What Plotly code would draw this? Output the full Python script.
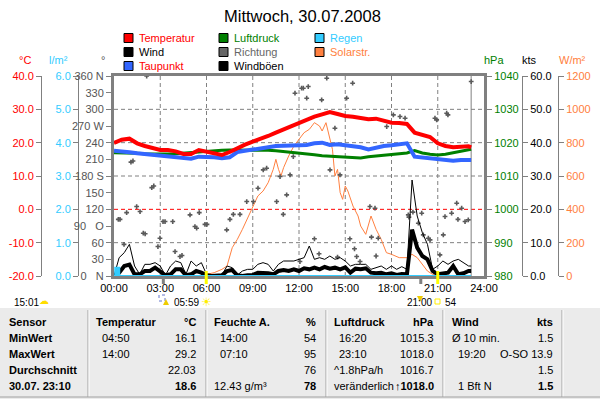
import plotly.graph_objects as go

W, H = 600, 399
def fx(x): return x / W
def fy(y): return 1 - y / H

NARROW = "Liberation Sans, Arial, sans-serif"
REG = "Liberation Sans, Arial, sans-serif"
TS = 11  # tick / legend text size

PL, PR, PT, PB = 114, 484, 76, 276

C_TEMP = "#ff0000"; C_DEW = "#3366ff"; C_PRES = "#008000"; C_DIR = "#5a5a5a"
C_WIND = "#000000"; C_RAIN = "#33ccff"; C_SOLAR = "#ff8040"; GRID = "#808080"

title = "Mittwoch, 30.07.2008"

# ---------------- data ----------------
t_half = [h * 0.5 for h in range(47)] + [23 + 10 / 60]
temperatur = [19.9, 20.9, 21.2, 19.8, 19.0, 18.3, 17.8, 17.8, 17.4, 16.6,
              16.6, 17.8, 17.2, 16.9, 16.3, 17.2, 18.4, 19.4, 20.3, 21.0,
              22.0, 23.0, 24.0, 25.0, 26.0, 27.0, 27.8, 28.5, 29.2, 28.6,
              28.0, 27.8, 27.3, 27.0, 27.2, 26.6, 26.0, 25.9, 25.6, 23.0,
              22.2, 21.7, 19.8, 19.0, 18.6, 18.8, 18.9, 18.6]
taupunkt = [17.6, 17.5, 17.1, 16.8, 16.6, 16.4, 16.1, 16.0, 15.8, 15.3,
            15.2, 15.8, 15.8, 15.6, 15.3, 15.6, 17.2, 17.6, 18.0, 18.5,
            18.8, 19.0, 19.1, 19.2, 19.2, 19.3, 19.8, 20.0, 19.3, 19.5,
            19.2, 19.0, 18.6, 18.0, 18.6, 19.0, 19.2, 19.6, 19.8, 15.8,
            15.5, 15.3, 15.0, 14.9, 14.6, 14.8, 14.7, 14.8]
luftdruck = [1017.0, 1017.0, 1016.9, 1016.8, 1016.7, 1016.6, 1016.5, 1016.6, 1016.7, 1016.9,
             1017.0, 1017.1, 1017.3, 1017.5, 1017.7, 1017.8, 1017.8, 1017.9, 1017.8, 1017.8,
             1017.7, 1017.6, 1017.4, 1017.1, 1016.9, 1016.6, 1016.4, 1016.1, 1016.0, 1015.8,
             1015.7, 1015.5, 1015.4, 1015.8, 1016.0, 1016.3, 1016.4, 1016.5, 1016.9, 1017.6,
             1016.9, 1016.5, 1016.3, 1016.5, 1017.0, 1017.4, 1017.8, 1018.0]

t_20 = [i / 3 for i in range(70)] + [23 + 10 / 60]
wind = [0.0, 1.0, 3.0,  3.4, 0.5, 0.5,  1.5, 1.5, 2.5,  1.5, 0.2, 0.5,
        2.0, 2.0, 0.2,  0.5, 1.5, 1.0,  0.2, 0.0, 0.2,  0.2, 1.5, 1.8,
        0.2, 0.0, 0.2,  0.3, 1.0, 1.0,  0.8, 0.5, 1.5,  1.8, 1.5, 2.0,
        1.5, 2.3, 2.0,  2.5, 2.0, 2.7,  2.2, 2.5, 2.0,  2.6, 1.0, 2.2,
        2.0, 2.3, 1.0,  0.8, 1.0, 0.5,  0.8, 0.3, 0.6,  0.5, 13.9, 8.5,
        6.0, 5.0, 1.5,  0.5, 0.8, 1.0,  3.0, 0.5, 0.8,  1.5, 1.5]
windboeen = [0.0, 5.5, 7.0,  9.5, 3.0, 0.5,  3.5, 3.5, 4.0,  3.0, 0.2, 3.0,
             4.5, 4.0, 0.5,  4.5, 3.0, 4.0,  0.5, 0.3, 0.3,  0.3, 3.0, 2.5,
             0.3, 1.5, 2.0,  2.0, 3.5, 4.0,  3.5, 1.5, 3.5,  4.5, 4.5, 4.5,
             5.0, 5.5, 9.0,  5.0, 5.5, 5.0,  6.0, 5.0, 5.5,  4.5, 3.0, 3.5,
             3.5, 3.5, 2.0,  2.5, 3.0, 2.0,  3.0, 2.0, 2.8,  2.0, 28.8, 18.0,
             13.0, 9.5, 2.0,  3.0, 4.5, 3.5,  4.5, 5.0, 4.0,  3.0, 3.0]

solar_t = [0, 5.9, 6.0, 6.5, 7.0, 7.33, 7.67, 8.0, 8.33, 8.67, 9.0, 9.33, 9.67,
           10.0, 10.33, 10.5, 10.67, 10.83, 11.0, 11.33, 11.67, 12.0, 12.33, 12.67,
           13.0, 13.33, 13.5, 13.75, 14.0, 14.17, 14.33, 14.5, 14.67, 14.83, 15.0,
           15.17, 15.5, 15.83, 16.0, 16.33, 16.67, 16.83, 17.0, 17.33, 17.67, 18.0,
           18.5, 19.0, 19.33, 19.67, 20.0, 20.33, 20.67, 21.0, 23 + 10 / 60]
solar_v = [0, 0, 10, 20, 40, 60, 170, 220, 280, 350, 420, 480, 510,
           560, 640, 700, 640, 600, 650, 720, 780, 820, 860, 880,
           920, 900, 870, 920, 820, 760, 600, 640, 500, 460, 540,
           510, 420, 360, 300, 250, 360, 320, 280, 220, 140, 130,
           110, 110, 130, 110, 70, 30, 10, 0, 0]

regen_t = [0, 0.08, 0.34, 23 + 10 / 60]
regen_v = [0, 0.25, 0, 0]

richtung_t = [0.28, 0.39, 0.65, 0.82, 1.10, 1.23, 1.47, 1.69, 1.90, 2.02, 2.12, 2.45, 2.58,
              2.85, 2.98, 3.18, 3.31, 3.81, 3.96, 4.28, 4.41, 4.93, 5.25, 5.36, 5.53, 5.90,
              6.03, 7.31, 7.52, 7.74, 8.17, 8.61, 9.04, 9.34, 9.68, 9.90, 10.55, 10.77,
              10.98, 11.20, 11.42, 11.63, 11.74, 12.06, 12.17, 12.28, 12.50, 12.60, 13.0,
              13.3, 13.47, 13.80, 14.01, 14.33, 14.5, 14.66, 15.09, 15.3, 15.48, 15.6,
              15.74, 15.96, 16.60, 16.7, 16.93, 17.0, 17.14, 17.69, 18.12, 18.55, 18.88,
              19.09, 19.13, 19.39, 19.74, 19.96, 20.06, 20.39, 20.50, 20.82, 20.93, 21.14,
              21.36, 21.47, 21.58, 21.66, 21.90, 22.23, 22.31, 22.55, 22.77, 22.98, 23.17]
richtung_v = [102, 102, 57, 114, 205, 207, 125, 116, 77, 76, 360, 159, 162,
              53, 68, 98, 98, 98, 44, 35, 37, 110, 89, 86, 114, 93,
              93, 83, 102, 111, 111, 134, 134, 158, 191, 194, 134, 179,
              111, 146, 182, 215, 329, 26, 338, 338, 320, 341, 67,
              40, 317, 356, 191, 266, 34, 182, 320, 67, 347, 49,
              35, 26, 125, 70, 122, 36, 68, 269, 290, 287, 284,
              110, 106, 115, 95, 113, 74, 68, 65, 284, 281, 38,
              74, 107, 293, 290, 113, 131, 102, 122, 98, 101, 350]

hour_ticks = list(range(0, 25, 3))
hour_labels = [f"{h:02d}:00" for h in hour_ticks]
deg_ticks = list(range(0, 361, 30))
deg_labels = ["0   N", "30", "60", "90   O", "120", "150", "180 S", "210", "240",
              "270 W", "300", "330", "360 N"]
temp_ticks = list(range(-20, 41, 10))
rain_ticks = list(range(0, 7))
hpa_ticks = list(range(980, 1041, 10))
kts_ticks = list(range(0, 61, 10))
solar_ticks = list(range(0, 1201, 200))
grid_w = [200, 400, 600, 800, 1000]   # on solar axis = 60..300 deg
frost_w = 400                         # 0 degC line
jetzt = 23 + 10 / 60
sonnenaufgang, sonnenuntergang = 5 + 59 / 60, 21.0
mond_auf, mond_unter = 3.2, 19.9

# ---------------- figure ----------------
fig = go.Figure()
fig.add_trace(go.Scatter(x=solar_t, y=solar_v, mode="lines", yaxis="y",
                         line=dict(color=C_SOLAR, width=1), name="Solarstr."))
fig.add_trace(go.Scatter(x=richtung_t, y=richtung_v, mode="markers", yaxis="y2",
                         marker=dict(symbol="cross", size=4, color=C_DIR, line=dict(width=0)),
                         name="Richtung"))
fig.add_trace(go.Scatter(x=t_20, y=windboeen, mode="lines", yaxis="y3",
                         line=dict(color=C_WIND, width=1), name="Windböen"))
fig.add_trace(go.Scatter(x=t_20, y=wind, mode="lines", yaxis="y3",
                         line=dict(color=C_WIND, width=4), name="Wind"))
fig.add_trace(go.Scatter(x=regen_t, y=regen_v, mode="lines", yaxis="y4",
                         line=dict(color=C_RAIN, width=2, shape="hv"), fill="tozeroy",
                         fillcolor=C_RAIN, name="Regen"))
fig.add_trace(go.Scatter(x=t_half, y=luftdruck, mode="lines", yaxis="y5",
                         line=dict(color=C_PRES, width=3), name="Luftdruck"))
fig.add_trace(go.Scatter(x=t_half, y=taupunkt, mode="lines", yaxis="y6",
                         line=dict(color=C_DEW, width=4), name="Taupunkt"))
fig.add_trace(go.Scatter(x=t_half, y=temperatur, mode="lines", yaxis="y6",
                         line=dict(color=C_TEMP, width=4), name="Temperatur"))

def yax(rng, ticks, labels, color, **kw):
    d = dict(range=rng, tickvals=ticks, ticktext=labels, showgrid=False, zeroline=False,
             ticks="outside", ticklen=5, tickcolor=GRID, showline=True, linecolor=GRID,
             linewidth=1, automargin=False, fixedrange=True,
             tickfont=dict(family=NARROW, size=TS, color=color))
    d.update(kw)
    return d

ydom = [fy(PB), fy(PT)]
fig.update_layout(
    width=W, height=H, autosize=False, template="none",
    margin=dict(l=0, r=0, t=0, b=0),
    paper_bgcolor="white", plot_bgcolor="white", showlegend=False,
    xaxis=dict(domain=[fx(PL), fx(PR)], range=[0, 24], tickvals=hour_ticks,
               ticktext=hour_labels, showgrid=False, zeroline=False, ticks="", ticklen=0,
               showline=True, mirror=True, linecolor=GRID, linewidth=3,
               automargin=False, fixedrange=True,
               tickfont=dict(family=NARROW, size=TS, color="black")),
    yaxis=yax([0, 1200], solar_ticks, [str(v) for v in solar_ticks], C_SOLAR,
              domain=ydom, anchor="free", side="right", position=fx(558)),
    yaxis2=yax([0, 360], deg_ticks, deg_labels, "#555555", overlaying="y",
               anchor="x", side="left", linewidth=3),
    yaxis3=yax([0, 60], kts_ticks, [f"{v:.1f}" for v in kts_ticks], "black",
               overlaying="y", anchor="free", side="right", position=fx(522)),
    yaxis4=yax([0, 6], rain_ticks, [f"{v:.1f}" for v in rain_ticks], C_RAIN,
               overlaying="y", anchor="free", side="left", position=fx(78)),
    yaxis5=yax([980, 1040], hpa_ticks, [str(v) for v in hpa_ticks], C_PRES,
               overlaying="y", anchor="x", side="right", linewidth=3),
    yaxis6=yax([-20, 40], temp_ticks, [f"{v:.1f}" for v in temp_ticks], C_TEMP,
               overlaying="y", anchor="free", side="left", position=fx(41)),
)

shapes = []
for h in hour_ticks[1:-1]:
    shapes.append(dict(type="line", xref="x", yref="y domain", x0=h, x1=h, y0=0, y1=1,
                       line=dict(color=GRID, width=1, dash="4px,3px"), layer="below"))
for g in grid_w:
    shapes.append(dict(type="line", xref="x domain", yref="y", x0=0, x1=1, y0=g, y1=g,
                       line=dict(color=C_TEMP if g == frost_w else GRID, width=1,
                                 dash="4px,3px"), layer="below"))
shapes.append(dict(type="line", xref="x", yref="y domain", x0=jetzt, x1=jetzt, y0=0, y1=1,
                   line=dict(color=GRID, width=1), layer="below"))
for t, c, top in [(mond_auf, GRID, PB), (mond_unter, GRID, PB),
                  (sonnenaufgang, "#ffff00", PB - 5), (sonnenuntergang, "#ffff00", PB - 5)]:
    shapes.append(dict(type="line", xref="x", yref="paper", x0=t, x1=t, y0=fy(PB + 8),
                       y1=fy(top), line=dict(color=c, width=3), layer="above"))

ann = []
def text(x, y, s, color="black", size=TS, family=NARROW, anchor="left"):
    ann.append(dict(x=fx(x), y=fy(y), xref="paper", yref="paper", text=s, showarrow=False,
                    xanchor=anchor, yanchor="middle",
                    font=dict(family=family, size=size, color=color)))

text(302, 16, title, size=16.5, family=REG, anchor="center")

legend = [(124, 38, "Temperatur", C_TEMP, C_TEMP), (124, 52, "Wind", C_WIND, "black"),
          (124, 66, "Taupunkt", C_DEW, C_TEMP), (219, 38, "Luftdruck", C_PRES, C_PRES),
          (219, 52, "Richtung", "#666666", "#666666"), (219, 66, "Windböen", C_WIND, "black"),
          (315, 38, "Regen", C_RAIN, C_RAIN), (315, 52, "Solarstr.", C_SOLAR, C_SOLAR)]
for x, y, lab, sc, tc in legend:
    shapes.append(dict(type="rect", xref="paper", yref="paper", x0=fx(x), x1=fx(x + 9),
                       y0=fy(y + 4.5), y1=fy(y - 4.5), fillcolor=sc,
                       line=dict(color="black", width=1), layer="above"))
    text(x + 13, y, lab, color=tc)

for x, s, c in [(25, "°C", C_TEMP), (58, "l/m²", C_RAIN), (103, "°", "#555555"),
                (494, "hPa", C_PRES), (529, "kts", "black"), (572, "W/m²", C_SOLAR)]:
    text(x, 60, s, color=c, anchor="center")

def tri(xc, yc, up, color):
    d = -1 if up else 1
    path = (f"M {fx(xc - 3)} {fy(yc - 3 * d)} L {fx(xc + 3)} {fy(yc - 3 * d)} "
            f"L {fx(xc)} {fy(yc + 3 * d)} Z")
    shapes.append(dict(type="path", xref="paper", yref="paper", path=path,
                       fillcolor=color, line=dict(color=color, width=0), layer="above"))

# sun / moon row
text(12, 302, "15:01", size=10)
text(44, 300, "☁", color="#ffdd00", size=10, family="DejaVu Sans", anchor="center")
shapes.append(dict(type="rect", xref="paper", yref="paper", x0=fx(159), x1=fx(165),
                   y0=fy(301), y1=fy(295), line=dict(color="#6677cc", width=1, dash="dot"),
                   layer="above"))
tri(166, 302, True, "#eecc00")
text(172, 302, "05:59", size=10)
text(206, 302, "☀", color="#ffee00", size=12, family="DejaVu Sans", anchor="center")
text(405, 302, "21:00", size=10)
tri(420, 299, False, "#eecc00")
shapes.append(dict(type="rect", xref="paper", yref="paper", x0=fx(435), x1=fx(440),
                   y0=fy(304), y1=fy(299), line=dict(color="#ffee00", width=1), layer="above"))
text(443, 302, "54", size=10)

# table
shapes.append(dict(type="rect", xref="paper", yref="paper", x0=0, x1=1, y0=0, y1=fy(308),
                   fillcolor="#ebebeb", line=dict(width=0), layer="below"))
for x in [88, 206, 326, 443, 562]:
    shapes.append(dict(type="line", xref="paper", yref="paper", x0=fx(x), x1=fx(x),
                       y0=fy(397), y1=fy(310), line=dict(color="#a0a0a0", width=1), layer="above"))
    shapes.append(dict(type="line", xref="paper", yref="paper", x0=fx(x + 1), x1=fx(x + 1),
                       y0=fy(397), y1=fy(310), line=dict(color="white", width=1), layer="above"))
shapes.append(dict(type="line", xref="paper", yref="paper", x0=0, x1=1, y0=fy(397),
                   y1=fy(397), line=dict(color="#a0a0a0", width=1), layer="above"))

row_y = [322, 338, 354, 370, 386]
sensor_col = ["Sensor", "MinWert", "MaxWert", "Durchschnitt", "30.07. 23:10"]
temp_col = [("Temperatur", "°C"), ("04:50", "16.1"), ("14:00", "29.2"), ("", "22.03"), ("", "18.6")]
feuchte_col = [("Feuchte A.", "%"), ("14:00", "54"), ("07:10", "95"), ("", "76"), ("12.43 g/m³", "78")]
druck_col = [("Luftdruck", "hPa"), ("16:20", "1015.3"), ("23:10", "1018.0"),
             ("^1.8hPa/h", "1016.7"), ("veränderlich", "↑1018.0")]
wind_col = [("Wind", "kts"), ("Ø 10 min.", "1.5"), ("19:20", "O-SO 13.9"), ("", "1.5"),
            ("1 Bft N", "1.5")]

def tb(x, y, s, bold=False, anchor="left"):
    text(x, y, f"<b>{s}</b>" if bold else s, size=11, family=REG, anchor=anchor)

for i, y in enumerate(row_y):
    tb(7, y, sensor_col[i], bold=True)
    for (lx, lx2, rx), col in [((94, 100, 198), temp_col), ((212, 218, 318), feuchte_col),
                               ((332, 337, 436), druck_col), ((450, 456, 555), wind_col)]:
        left, right = col[i]
        if i == 0:
            tb(lx, y, left, bold=True)
            tb(rx, y, right, bold=True, anchor="right")
        else:
            xl = lx if (left.startswith("^") or left.startswith("ver") or left.startswith("Ø")
                        or "g/m" in left) else lx2
            tb(xl, y, left)
            tb(rx, y, right, bold=(i == 4), anchor="right")

fig.update_layout(shapes=shapes, annotations=ann)
fig.write_html("out.html", config={"displayModeBar": False},
               post_script="document.body.style.margin='0';")
